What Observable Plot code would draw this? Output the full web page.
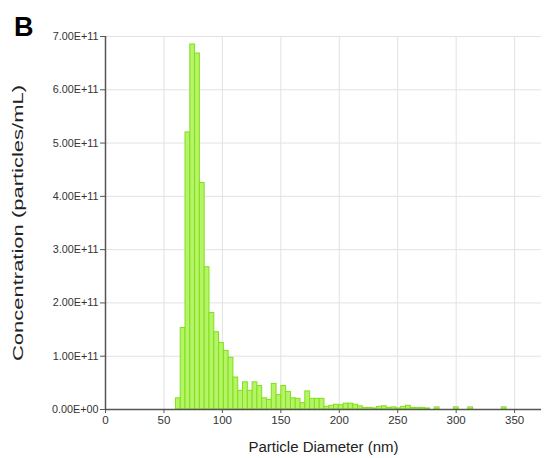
<!DOCTYPE html>
<html><head><meta charset="utf-8">
<script src="https://cdn.jsdelivr.net/npm/d3@7"></script>
<script src="https://cdn.jsdelivr.net/npm/@observablehq/plot@0.6"></script>
<style>
body{margin:0;background:#fff;}
#chart{position:relative;width:544px;height:458px;}
#panel{position:absolute;left:14px;top:14px;font:bold 27px/27px "Liberation Sans",Arial,sans-serif;color:#000;}
</style></head><body><div id="chart"><div id="panel">B</div></div>
<script>
// Bin centres (nm) of the size histogram
const binCenters = [62.3, 66.4, 70.5, 74.6, 78.7, 82.8, 86.9, 91.0, 95.1, 99.2,
  103.3, 107.4, 111.5, 115.6, 119.7, 123.8, 127.9, 132.0, 136.1, 140.2,
  144.3, 148.4, 152.5, 156.6, 160.7, 164.8, 168.9, 173.0, 177.1, 181.2,
  185.3, 189.4, 193.5, 197.6, 201.7, 205.8, 209.9, 214.0, 218.1, 222.2,
  226.3, 230.4, 234.5, 238.6, 242.7, 246.8, 250.9, 255.0, 259.1, 263.2,
  267.3, 271.4, 275.5, 283.7, 300.1, 312.4, 341.1];
// Concentration in units of 1E+11 particles/mL
const concentrationE11 = [0.21, 1.53, 5.20, 6.85, 6.68, 4.25, 2.67, 1.81, 1.45, 1.25,
  1.10, 0.97, 0.60, 0.35, 0.51, 0.35, 0.51, 0.44, 0.21, 0.18,
  0.48, 0.27, 0.44, 0.33, 0.21, 0.20, 0.12, 0.34, 0.20, 0.20,
  0.20, 0.05, 0.07, 0.09, 0.08, 0.11, 0.11, 0.09, 0.06, 0.03,
  0.03, 0.02, 0.05, 0.06, 0.03, 0.04, 0.02, 0.05, 0.07, 0.03,
  0.03, 0.03, 0.02, 0.04, 0.04, 0.04, 0.04];
const binWidth = 4.1;
const xTicks = [0, 50, 100, 150, 200, 250, 300, 350];
const yTicks = [0, 1e11, 2e11, 3e11, 4e11, 5e11, 6e11, 7e11];
const yTickLabels = ["0.00E+00", "1.00E+11", "2.00E+11", "3.00E+11", "4.00E+11", "5.00E+11", "6.00E+11", "7.00E+11"];
const xLabel = "Particle Diameter (nm)";
const yLabel = "Concentration (particles/mL)";

const data = binCenters.map((c, i) => ({c, v: concentrationE11[i] * 1e11}));

const plot = Plot.plot({
  width: 544, height: 458,
  marginLeft: 105, marginRight: 3, marginTop: 36, marginBottom: 49,
  style: {fontFamily: "'Liberation Sans', Arial, sans-serif", background: "#fff", color: "#333"},
  x: {domain: [0, 373]},
  y: {domain: [0, 7e11]},
  marks: [
    Plot.gridX(xTicks, {stroke: "#e2e2e2", strokeOpacity: 1}),
    Plot.gridY(yTicks, {stroke: "#e2e2e2", strokeOpacity: 1}),
    Plot.rectY(data, {x1: d => d.c - binWidth / 2, x2: d => d.c + binWidth / 2, y: "v",
      fill: "#b5f466", stroke: "#80df1c", strokeWidth: 1}),
    Plot.axisX(xTicks, {tickSize: 4, tickPadding: 2, fontSize: 11.5, label: null, tickFormat: d => String(d), stroke: "#555"}),
    Plot.axisY(yTicks, {tickSize: 5, tickPadding: 2, fontSize: 10.8, label: null, tickFormat: (d, i) => yTickLabels[i], stroke: "#555"}),
    Plot.ruleX([0], {stroke: "#555", strokeWidth: 1.5}),
    Plot.ruleY([0], {stroke: "#555", strokeWidth: 1.5}),
    Plot.text([xLabel], {frameAnchor: "bottom", textAnchor: "middle", dy: 42, fontSize: 14, fill: "#222", className: "xlab"}),
    Plot.text([yLabel], {frameAnchor: "left", textAnchor: "middle", dx: -87, rotate: -90, fontSize: 14, fill: "#222", className: "ylab"})
  ]
});
document.getElementById("chart").prepend(plot);
// the reference's axis titles are drawn slightly stretched
d3.select(plot).selectAll(".ylab text").attr("textLength", 276).attr("lengthAdjust", "spacingAndGlyphs");
d3.select(plot).selectAll(".xlab text").attr("textLength", 150).attr("lengthAdjust", "spacingAndGlyphs");
</script></body></html>
